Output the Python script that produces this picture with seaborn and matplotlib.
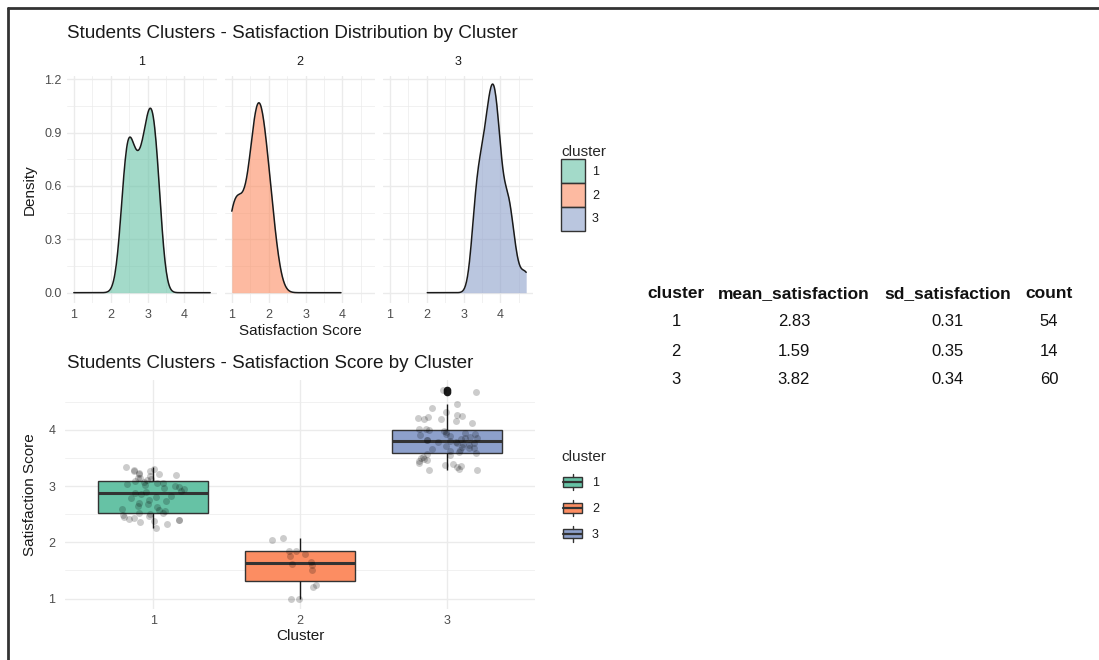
import numpy as np
import pandas as pd
import matplotlib
matplotlib.use("Agg")
import matplotlib.pyplot as plt
import seaborn as sns
from matplotlib.patches import Rectangle, Patch
from matplotlib.lines import Line2D
from matplotlib.legend_handler import HandlerBase
from matplotlib.ticker import MultipleLocator

# ---------------- data ----------------
clusters = ["1", "2", "3"]
scores_c1 = [2.25, 2.33, 2.36, 2.38, 2.40, 2.40, 2.42, 2.43, 2.45, 2.47, 2.48, 2.50, 2.52, 2.52,
             2.55, 2.58, 2.60, 2.63, 2.65, 2.68, 2.70, 2.73, 2.75, 2.78, 2.80, 2.83, 2.86,
             2.88, 2.90, 2.92, 2.95, 2.97, 2.98, 3.00, 3.02, 3.03, 3.05, 3.06, 3.08, 3.09, 3.10,
             3.12, 3.14, 3.15, 3.17, 3.19, 3.21, 3.22, 3.24, 3.26, 3.27, 3.29, 3.31, 3.33]
scores_c2 = [1.00, 1.00, 1.20, 1.25, 1.50, 1.60, 1.62, 1.65, 1.75, 1.80, 1.85, 1.85, 2.05, 2.08]
scores_c3 = [3.28, 3.29, 3.31, 3.33, 3.35, 3.37, 3.39, 3.41, 3.44, 3.46, 3.48, 3.50, 3.52, 3.55, 3.57,
             3.59, 3.60, 3.62, 3.64, 3.65, 3.67, 3.68, 3.70, 3.71, 3.73, 3.74, 3.76, 3.77, 3.78, 3.79,
             3.80, 3.81, 3.82, 3.84, 3.85, 3.86, 3.88, 3.89, 3.90, 3.92, 3.93, 3.95, 3.96, 3.98, 4.00,
             4.01, 4.02, 4.12, 4.16, 4.19, 4.20, 4.21, 4.22, 4.24, 4.27, 4.32, 4.38, 4.45, 4.67, 4.70]

table_cluster = ["1", "2", "3"]
table_mean = ["2.83", "1.59", "3.82"]
table_sd = ["0.31", "0.35", "0.34"]
table_count = ["54", "14", "60"]
table_header = ["cluster", "mean_satisfaction", "sd_satisfaction", "count"]

palette = sns.color_palette("Set2", 3)
bw_adjusts = [1.0, 0.9, 0.85]

df = pd.DataFrame({
    "cluster": ["1"] * len(scores_c1) + ["2"] * len(scores_c2) + ["3"] * len(scores_c3),
    "score": scores_c1 + scores_c2 + scores_c3,
})

# ---------------- style ----------------
sns.set_theme(style="white")
plt.rcParams["font.family"] = ["Liberation Sans", "DejaVu Sans"]

W, H = 1099, 660
fig = plt.figure(figsize=(W / 100, H / 100), dpi=100)
fig.patch.set_facecolor("white")

def px_axes(x0, y0, x1, y1):
    return fig.add_axes([x0 / W, 1 - y1 / H, (x1 - x0) / W, (y1 - y0) / H])

def ftext(x, y, s, **kw):
    kw.setdefault("va", "center")
    return fig.text(x / W, 1 - y / H, s, **kw)

GRID = "#ebebeb"
TICKC = "#4d4d4d"
TXT = "#1a1a1a"

def style_axes(ax):
    for sp in ax.spines.values():
        sp.set_visible(False)
    ax.set_facecolor("white")
    ax.grid(True, which="major", color=GRID, linewidth=1.0)
    ax.grid(True, which="minor", color=GRID, linewidth=0.5)
    ax.set_axisbelow(True)
    ax.tick_params(which="both", length=0, labelsize=9, labelcolor=TICKC, pad=4)
    ax.set_xlabel("")
    ax.set_ylabel("")

# border of the screenshot
fig.add_artist(Line2D([8 / W, 1.0], [1 - 8 / H, 1 - 8 / H], color="#333333", lw=2))
fig.add_artist(Line2D([8 / W, 8 / W], [0, 1 - 8 / H], color="#333333", lw=2))

# ---------------- top: densities ----------------
all_min, all_max = df["score"].min(), df["score"].max()
panels = [(67, 217), (225, 375), (383, 533)]
groups = [scores_c1, scores_c2, scores_c3]
for i, (cl, (x0, x1), vals) in enumerate(zip(clusters, panels, groups)):
    ax = px_axes(x0, 76, x1, 303)
    sns.kdeplot(x=vals, fill=True, color=palette[i], alpha=0.6, linewidth=0,
                bw_adjust=bw_adjusts[i], clip=(all_min, all_max), cut=10, ax=ax)
    sns.kdeplot(x=vals, fill=False, color=TXT, linewidth=1.1,
                bw_adjust=bw_adjusts[i], clip=(all_min, all_max), cut=10, ax=ax)
    ax.set_xlim(0.815, 4.885)
    ax.set_ylim(-0.058, 1.218)
    ax.xaxis.set_major_locator(MultipleLocator(1))
    ax.xaxis.set_minor_locator(MultipleLocator(0.5))
    ax.yaxis.set_major_locator(MultipleLocator(0.3))
    ax.yaxis.set_minor_locator(MultipleLocator(0.15))
    style_axes(ax)
    if i == 0:
        ax.set_yticklabels([f"{v:.1f}" for v in ax.get_yticks()])
    else:
        ax.tick_params(labelleft=False)
    ftext((x0 + x1) / 2, 62, cl, ha="center", fontsize=9, color=TXT)

ftext(67, 33, "Students Clusters - Satisfaction Distribution by Cluster",
      ha="left", fontsize=13.6, color=TXT)
ftext(30, 190, "Density", ha="center", rotation=90, fontsize=11, color=TXT)
ftext(300, 331, "Satisfaction Score", ha="center", fontsize=11, color=TXT)

top_handles = [Patch(facecolor=(*palette[i], 0.6), edgecolor="#333333", linewidth=1)
               for i in range(3)]
leg1 = fig.legend(top_handles, clusters, title="cluster", loc="upper left",
                  bbox_to_anchor=(555 / W, 1 - 139 / H), frameon=False,
                  fontsize=9, title_fontsize=11, handlelength=1.9, handleheight=2.55,
                  labelspacing=0.0, handletextpad=0.55, borderpad=0, alignment="left")
for t in leg1.get_texts():
    t.set_color(TXT)

# ---------------- bottom: boxplot ----------------
ax2 = px_axes(65, 380, 535, 609)
sns.boxplot(data=df, x="cluster", y="score", hue="cluster", order=clusters,
            hue_order=clusters, palette=palette, saturation=1, width=0.75,
            linecolor="#333333", linewidth=1.0, showcaps=False, legend=False,
            fliersize=4.5, flierprops=dict(marker="o", markerfacecolor=TXT,
                                          markeredgecolor=TXT),
            medianprops=dict(color="#333333", linewidth=2.2),
            whiskerprops=dict(color=TXT, linewidth=1.0), ax=ax2)
np.random.seed(3)
sns.stripplot(data=df, x="cluster", y="score", order=clusters, color="black",
              alpha=0.2, size=5, jitter=0.22, linewidth=0, legend=False, ax=ax2)
ax2.set_xlim(-0.6, 2.6)
ax2.set_ylim(0.815, 4.885)
ax2.yaxis.set_major_locator(MultipleLocator(1))
ax2.yaxis.set_minor_locator(MultipleLocator(0.5))
style_axes(ax2)
ax2.grid(False, which="minor", axis="x")
ax2.tick_params(axis="y", pad=7)

ftext(67, 363, "Students Clusters - Satisfaction Score by Cluster",
      ha="left", fontsize=13.6, color=TXT)
ftext(30, 495, "Satisfaction Score", ha="center", rotation=90, fontsize=11, color=TXT)
ftext(300, 636, "Cluster", ha="center", fontsize=11, color=TXT)


class BoxHandler(HandlerBase):
    def create_artists(self, legend, orig_handle, xdescent, ydescent, width, height,
                       fontsize, trans):
        fc = orig_handle.get_facecolor()
        x0, y0 = -xdescent, -ydescent
        cx, cy = x0 + width / 2, y0 + height / 2
        bw, bh = width * 0.85, height * 0.6
        rect = Rectangle((cx - bw / 2, cy - bh / 2), bw, bh, facecolor=fc,
                         edgecolor="#333333", linewidth=1, transform=trans)
        w1 = Line2D([cx, cx], [cy + bh / 2, y0 + height], color="#333333", lw=1, transform=trans)
        w2 = Line2D([cx, cx], [y0, cy - bh / 2], color="#333333", lw=1, transform=trans)
        med = Line2D([cx - bw / 2, cx + bw / 2], [cy, cy], color="#333333", lw=1.6, transform=trans)
        return [rect, w1, w2, med]


bot_handles = [Patch(facecolor=palette[i]) for i in range(3)]
leg2 = fig.legend(bot_handles, clusters, title="cluster", loc="upper left",
                  bbox_to_anchor=(555 / W, 1 - 444 / H), frameon=False,
                  fontsize=9, title_fontsize=11, handlelength=1.8, handleheight=1.6,
                  labelspacing=0.78, handletextpad=0.65, borderpad=0, alignment="left",
                  handler_map={Patch: BoxHandler()})
for t in leg2.get_texts():
    t.set_color(TXT)

# ---------------- table ----------------
col_x = [676, 794, 948, 1049]
row_y = [294, 322, 351, 379]
for x, h in zip(col_x, table_header):
    ftext(x, row_y[0], h, ha="center", fontsize=12.5, fontweight="bold", color="#111111")
for r, y in enumerate(row_y[1:]):
    for x, col in zip(col_x, [table_cluster, table_mean, table_sd, table_count]):
        ftext(x, y, col[r], ha="center", fontsize=12, color="#111111")

fig.savefig("out.png", dpi=100)
